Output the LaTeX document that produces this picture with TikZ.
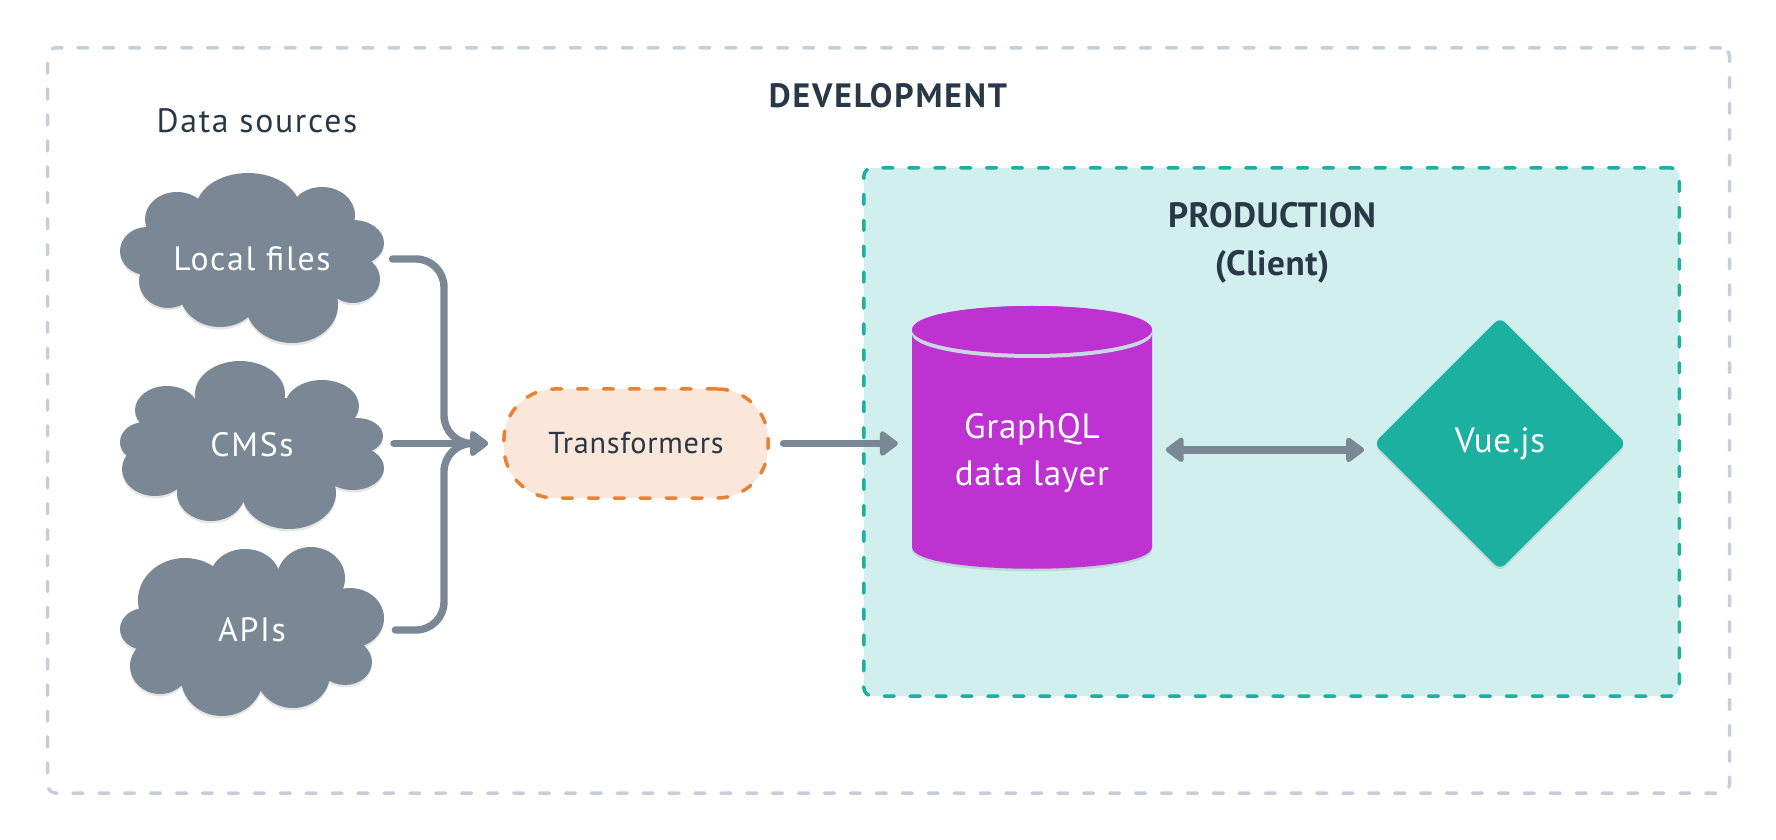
\documentclass[tikz,border=0pt]{standalone}
\usepackage{fontspec}
\setmainfont{PT Sans}
\usepackage{color,xcolor}
\usetikzlibrary{arrows.meta,shapes.geometric,shadows}
\definecolor{slate}{RGB}{122,136,150}
\definecolor{inkblue}{RGB}{41,56,71}
\definecolor{fog}{RGB}{197,207,219}
\definecolor{tealish}{RGB}{27,176,160}
\definecolor{palemint}{RGB}{209,239,237}
\definecolor{orchid}{RGB}{189,50,209}
\definecolor{tangerine}{RGB}{234,130,54}
\definecolor{peach}{RGB}{250,231,218}
\tikzset{
    softshadow/.style={drop shadow={shadow xshift=0pt, shadow yshift=-.7pt, opacity=.1, fill=black}},
    dashedbox/.style={line width=1pt, line cap=round, dash pattern=on 2.85pt off 4.52pt},
    flowline/.style={draw=slate, line width=2.1pt, line cap=round, rounded corners=8pt,
        -{Triangle[length=5.6pt, width=8pt, round]}},
    flowboth/.style={draw=slate, line width=2.1pt,
        {Triangle[length=5.6pt, width=8pt, round]}-{Triangle[length=5.6pt, width=8pt, round]}},
    bodytext/.style={text=white, font=\fontsize{10}{13.6}\selectfont, align=center, inner sep=0pt},
    sourcenode/.style={bodytext, font=\fontsize{9.6}{13.6}\selectfont, minimum width=2.64cm},
    titletext/.style={text=inkblue, font=\fontsize{10}{13.6}\selectfont\bfseries, align=center, inner sep=0pt}
}
\begin{document}
\begin{tikzpicture}[x=0.01cm, y=-0.01cm]
        \useasboundingbox (0, 0) rectangle (1776, 840);
        % frames
        \node (development) [draw=fog, dashedbox, rounded corners=2.5pt, minimum width=16.81cm, minimum height=7.45cm] at (888.5, 420.5) {};
        \node (production) [draw=tealish, fill=palemint, dashedbox, rounded corners=2.5pt, minimum width=8.15cm, minimum height=5.28cm] at (1271.5, 432) {};
        \draw (888, 96) node[titletext, font=\fontsize{9.6}{13.6}\selectfont\bfseries] (devtitle) {\addfontfeatures{LetterSpace=5.5}DEVELOPMENT};
        \draw (1272, 243) node[titletext] (prodtitle) {\addfontfeatures{LetterSpace=1.5}PRODUCTION\\\addfontfeatures{LetterSpace=1.5}(Client)};
        \draw (257, 121) node[sourcenode, text=inkblue] (sourcetitle) {\addfontfeatures{LetterSpace=5}Data sources};
        % clouds
        \fill[slate, softshadow] (250, 257) ellipse (100 and 48) (248, 209) ellipse (52 and 36) (177, 219) ellipse (32 and 27)
            (322, 215) ellipse (33 and 28) (353, 243) ellipse (31 and 23) (353, 279) ellipse (27 and 24)
            (147, 251) ellipse (27 and 24) (168, 281) ellipse (29 and 27) (220, 293) ellipse (40 and 34) (292, 305) ellipse (46 and 38);
        \fill[slate, softshadow] (250, 443) ellipse (100 and 48) (240, 394) ellipse (45 and 33) (167, 410) ellipse (32 and 24)
            (322, 406) ellipse (37 and 26) (357, 436) ellipse (26 and 18) (353, 468) ellipse (31 and 22)
            (145, 442) ellipse (25 and 20) (155, 469) ellipse (33 and 27) (211, 493) ellipse (34 and 28) (289, 493) ellipse (47 and 36);
        \fill[slate, softshadow] (250, 630) ellipse (100 and 52) (245, 578) ellipse (35 and 29) (311, 578) ellipse (34 and 31)
            (185, 600) ellipse (47 and 42) (350, 618) ellipse (34 and 30) (345, 662) ellipse (27 and 23)
            (145, 629) ellipse (25 and 21) (160, 666) ellipse (30 and 28) (222, 678) ellipse (41 and 38) (293, 674) ellipse (37 and 34);
        \draw (252, 259) node[sourcenode] (localfiles) {\addfontfeatures{LetterSpace=5}Local files};
        \draw (252, 445) node[sourcenode] (cmss) {\addfontfeatures{LetterSpace=5}CMSs};
        \draw (252, 630) node[sourcenode] (apis) {\addfontfeatures{LetterSpace=5}APIs};
        % middle and right shapes
        \node (transformers) [draw=tangerine, fill=peach, dashedbox, rounded corners=14.5pt, minimum width=2.64cm, minimum height=1.09cm,
            text=inkblue, font=\fontsize{8.6}{10}\selectfont] at (636, 443.5) {\raisebox{-.3pt}{\addfontfeatures{LetterSpace=2.5}Transformers}};
        \fill[orchid, softshadow] (912, 330) -- (912, 547) .. controls (912, 576) and (1152, 576) .. (1152, 547)
            -- (1152, 330) .. controls (1152, 298) and (912, 298) .. cycle;
        \fill[fog!70!palemint] (1032, 334) ellipse (120 and 24);
        \fill[orchid] (1032, 330) ellipse (120 and 24);
        \node (datalayer) [bodytext, minimum width=2.4cm, minimum height=2.63cm, outer sep=0pt] at (1032, 453) {\addfontfeatures{LetterSpace=2}GraphQL\\\addfontfeatures{LetterSpace=2}data layer};
        \node (vue) [diamond, aspect=1, fill=tealish, softshadow, rounded corners=2pt, inner sep=0pt, outer sep=0pt, minimum size=2.52cm,
            bodytext] at (1500, 443.5) {\addfontfeatures{LetterSpace=2}Vue.js};
        % connectors
        \coordinate (merge) at (444, 443.5);
        \draw[flowline, shorten <=2.2pt, shorten >=4pt] (localfiles.east) -| (merge) -- (transformers.west);
        \draw[flowline, shorten <=2.6pt, shorten >=4pt] (cmss.east |- merge) -- (transformers.west);
        \draw[flowline, shorten <=3pt, shorten >=4pt] (apis.east) -| (merge) -- (transformers.west);
        \draw[flowline, shorten <=3.9pt, shorten >=4pt] (transformers.east) -- (datalayer.west |- transformers.east);
        \draw[flowboth, shorten <=3.9pt, shorten >=2.8pt] ([yshift=-1.8pt]datalayer.east |- vue.west) -- ([yshift=-1.8pt]vue.west);
    \end{tikzpicture}
\end{document}
